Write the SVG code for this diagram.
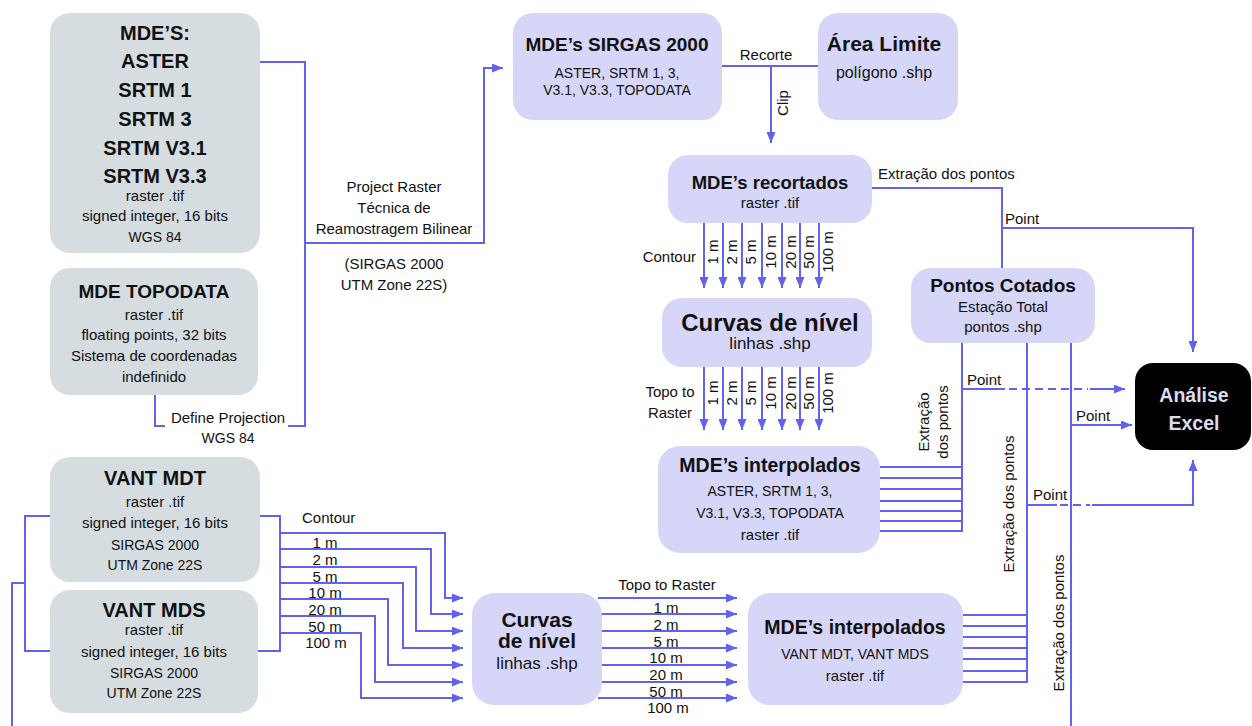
<svg xmlns="http://www.w3.org/2000/svg" width="1252" height="726" viewBox="0 0 1252 726">
<defs>
<marker id="ah" viewBox="0 0 11 9" refX="11" refY="4.5" markerWidth="11" markerHeight="9" markerUnits="userSpaceOnUse" orient="auto"><path d="M0,0 L11,4.5 L0,9 z" fill="#6262ee"/></marker>
<style>
.ln{stroke:#6262ee;stroke-width:2;fill:none}
.ar{stroke:#6262ee;stroke-width:2;fill:none;marker-end:url(#ah)}
.ds{stroke:#6262ee;stroke-width:2;fill:none;stroke-dasharray:8 5}
.gr{fill:#d6dde1}
.lv{fill:#d6d6f8}
text{font-family:"Liberation Sans",Arial,sans-serif;fill:#111}
.t{font-weight:bold;font-size:20px;text-anchor:middle}
.s{font-size:15px;text-anchor:middle}
.c{font-size:14px;text-anchor:middle}
.h{font-weight:bold;font-size:24px;text-anchor:middle}
.hs{font-size:17px;text-anchor:middle}
.l{font-size:15px}
.m{font-size:15px;text-anchor:middle}
.w{fill:#dcdcee}
</style>
</defs>
<rect width="1252" height="726" fill="#fff"/>

<g id="connectors">
<path class="ln" d="M260,62 H305 V426 H288"/>
<path class="ln" d="M155,395 V426 H165"/>
<path class="ar" d="M305,243 H484 V68 H503"/>
<path class="ln" d="M722,66 H818"/>
<path class="ar" d="M771,66 V143"/>
<path class="ar" d="M704,223 V288"/><path class="ar" d="M723,223 V288"/><path class="ar" d="M742,223 V288"/><path class="ar" d="M762,223 V288"/><path class="ar" d="M782,223 V288"/><path class="ar" d="M800,223 V288"/><path class="ar" d="M819,223 V288"/>
<path class="ar" d="M704,367 V430"/><path class="ar" d="M723,367 V430"/><path class="ar" d="M742,367 V430"/><path class="ar" d="M762,367 V430"/><path class="ar" d="M782,367 V430"/><path class="ar" d="M800,367 V430"/><path class="ar" d="M819,367 V430"/>
<path class="ln" d="M872,188 H1002 V268"/>
<path class="ar" d="M1002,228 H1193 V352"/>
<path class="ln" d="M880,467 H962 M880,478 H962 M880,489 H962 M880,501 H962 M880,511 H962 M880,521 H962 M880,531 H962 M962,343 V532"/>
<path class="ln" d="M962,389 H1005"/><path class="ds" d="M1009,389 H1088"/><path class="ar" d="M1090,389 H1125"/>
<path class="ln" d="M963,615 H1027 M963,626 H1027 M963,637 H1027 M963,648 H1027 M963,659 H1027 M963,671 H1027 M963,682 H1027 M1027,343 V683"/>
<path class="ln" d="M1027,505 H1057"/><path class="ds" d="M1060,505 H1090"/><path class="ar" d="M1092,505 H1193 V460"/>
<path class="ln" d="M1071,343 V726"/>
<path class="ar" d="M1071,425 H1132"/>
<path class="ln" d="M50,516 H25 V651 H50 M25,583 H12 V726"/>
<path class="ln" d="M260,516 H280 V651 H258"/>
<path class="ar" d="M280,533 H445 V598 H463"/>
<path class="ar" d="M280,549 H431 V614 H463"/>
<path class="ar" d="M280,567 H416 V631 H463"/>
<path class="ar" d="M280,583 H403 V648 H463"/>
<path class="ar" d="M280,599 H388 V665 H463"/>
<path class="ar" d="M280,616 H375 V682 H463"/>
<path class="ar" d="M280,633 H361 V698 H463"/>
<path class="ar" d="M598,598 H737"/><path class="ar" d="M602,614 H737"/><path class="ar" d="M602,631 H737"/><path class="ar" d="M602,648 H737"/><path class="ar" d="M602,665 H737"/><path class="ar" d="M602,682 H737"/><path class="ar" d="M598,698 H737"/>
</g>

<g id="connector-labels">
<text class="s" x="228" y="423">Define Projection</text>
<text class="c" x="228" y="443">WGS 84</text>
<text class="s" x="394" y="192">Project Raster</text>
<text class="s" x="394" y="213">Técnica de</text>
<text class="s" x="394" y="234">Reamostragem Bilinear</text>
<text class="s" x="394" y="269">(SIRGAS 2000</text>
<text class="s" x="394" y="290">UTM Zone 22S)</text>
<text class="s" x="766" y="60">Recorte</text>
<text class="s" transform="translate(788,103) rotate(-90)">Clip</text>
<text class="l" x="696" y="262" text-anchor="end">Contour</text>
<text class="m" transform="translate(718,252) rotate(-90)">1 m</text>
<text class="m" transform="translate(737,252) rotate(-90)">2 m</text>
<text class="m" transform="translate(756,252) rotate(-90)">5 m</text>
<text class="m" transform="translate(776,252) rotate(-90)">10 m</text>
<text class="m" transform="translate(796,252) rotate(-90)">20 m</text>
<text class="m" transform="translate(814,252) rotate(-90)">50 m</text>
<text class="m" transform="translate(833,252) rotate(-90)">100 m</text>
<text class="s" x="670" y="397">Topo to</text>
<text class="s" x="670" y="418">Raster</text>
<text class="m" transform="translate(718,393) rotate(-90)">1 m</text>
<text class="m" transform="translate(737,393) rotate(-90)">2 m</text>
<text class="m" transform="translate(756,393) rotate(-90)">5 m</text>
<text class="m" transform="translate(776,393) rotate(-90)">10 m</text>
<text class="m" transform="translate(796,393) rotate(-90)">20 m</text>
<text class="m" transform="translate(814,393) rotate(-90)">50 m</text>
<text class="m" transform="translate(833,393) rotate(-90)">100 m</text>
<text class="l" x="878" y="179">Extração dos pontos</text>
<text class="l" x="1005" y="224">Point</text>
<text class="l" x="967" y="385">Point</text>
<text class="l" x="1076" y="421">Point</text>
<text class="l" x="1033" y="500">Point</text>
<text class="m" transform="translate(929,422) rotate(-90)">Extração</text>
<text class="m" transform="translate(948,422) rotate(-90)">dos pontos</text>
<text class="m" transform="translate(1014,504) rotate(-90)">Extração dos pontos</text>
<text class="m" transform="translate(1064,623) rotate(-90)">Extração dos pontos</text>
<text class="l" x="302" y="523">Contour</text>
<text class="m" x="325" y="548">1 m</text>
<text class="m" x="325" y="565">2 m</text>
<text class="m" x="325" y="582">5 m</text>
<text class="m" x="325" y="598">10 m</text>
<text class="m" x="325" y="615">20 m</text>
<text class="m" x="325" y="632">50 m</text>
<text class="m" x="326" y="648">100 m</text>
<text class="m" x="667" y="590">Topo to Raster</text>
<text class="m" x="666" y="613">1 m</text>
<text class="m" x="666" y="630">2 m</text>
<text class="m" x="666" y="647">5 m</text>
<text class="m" x="666" y="663">10 m</text>
<text class="m" x="666" y="680">20 m</text>
<text class="m" x="666" y="697">50 m</text>
<text class="m" x="668" y="713">100 m</text>
</g>

<g id="n-mdes">
<rect class="gr" x="50" y="13" width="210" height="240" rx="20"/>
<text class="t" x="155" y="40">MDE’S:</text>
<text class="t" x="155" y="68">ASTER</text>
<text class="t" x="155" y="97">SRTM 1</text>
<text class="t" x="155" y="126">SRTM 3</text>
<text class="t" x="155" y="155">SRTM V3.1</text>
<text class="t" x="155" y="183">SRTM V3.3</text>
<text class="s" x="155" y="201">raster .tif</text>
<text class="s" x="155" y="221">signed integer, 16 bits</text>
<text class="c" x="155" y="242">WGS 84</text>
</g>

<g id="n-topodata">
<rect class="gr" x="50" y="268" width="208" height="127" rx="20"/>
<text class="t" x="154" y="298" style="font-size:19px">MDE TOPODATA</text>
<text class="s" x="154" y="320">raster .tif</text>
<text class="s" x="154" y="340">floating points, 32 bits</text>
<text class="s" x="154" y="361">Sistema de coordenadas</text>
<text class="s" x="154" y="382">indefinido</text>
</g>

<g id="n-vant-mdt">
<rect class="gr" x="50" y="457" width="210" height="125" rx="20"/>
<text class="t" x="155" y="485">VANT MDT</text>
<text class="s" x="155" y="507">raster .tif</text>
<text class="s" x="155" y="528">signed integer, 16 bits</text>
<text class="c" x="155" y="550">SIRGAS 2000</text>
<text class="c" x="155" y="570">UTM Zone 22S</text>
</g>

<g id="n-vant-mds">
<rect class="gr" x="50" y="590" width="208" height="123" rx="20"/>
<text class="t" x="154" y="617">VANT MDS</text>
<text class="s" x="154" y="635">raster .tif</text>
<text class="s" x="154" y="657">signed integer, 16 bits</text>
<text class="c" x="154" y="678">SIRGAS 2000</text>
<text class="c" x="154" y="698">UTM Zone 22S</text>
</g>

<g id="n-sirgas">
<rect class="lv" x="513" y="13" width="209" height="107" rx="20"/>
<text class="t" x="617" y="51" style="font-size:19px">MDE’s SIRGAS 2000</text>
<text class="c" x="617" y="78">ASTER, SRTM 1, 3,</text>
<text class="c" x="617" y="95">V3.1, V3.3, TOPODATA</text>
</g>

<g id="n-area">
<rect class="lv" x="818" y="13" width="140" height="107" rx="20"/>
<text class="t" x="884" y="51" style="font-size:21px">Área Limite</text>
<text class="s" x="884" y="78" style="font-size:16px">polígono .shp</text>
</g>

<g id="n-recortados">
<rect class="lv" x="668" y="155" width="204" height="68" rx="20"/>
<text class="t" x="770" y="189" style="font-size:18.5px">MDE’s recortados</text>
<text class="s" x="770" y="208">raster .tif</text>
</g>

<g id="n-curvas">
<rect class="lv" x="662" y="298" width="210" height="69" rx="20"/>
<text class="h" x="770" y="331">Curvas de nível</text>
<text class="hs" x="770" y="349">linhas .shp</text>
</g>

<g id="n-interp">
<rect class="lv" x="658" y="446" width="222" height="107" rx="22"/>
<text class="t" x="770" y="472" style="font-size:19.5px">MDE’s interpolados</text>
<text class="c" x="770" y="496">ASTER, SRTM 1, 3,</text>
<text class="c" x="770" y="518">V3.1, V3.3, TOPODATA</text>
<text class="s" x="770" y="540">raster .tif</text>
</g>

<g id="n-pontos">
<rect class="lv" x="911" y="268" width="184" height="75" rx="20"/>
<text class="t" x="1003" y="292" style="font-size:19px">Pontos Cotados</text>
<text class="s" x="1003" y="312">Estação Total</text>
<text class="s" x="1003" y="332">pontos .shp</text>
</g>

<g id="n-analise">
<rect x="1135" y="363" width="116" height="87" rx="18" fill="#000"/>
<text class="t w" x="1194" y="402" style="font-size:19.5px">Análise</text>
<text class="t w" x="1194" y="430" style="font-size:19.5px">Excel</text>
</g>

<g id="n-curvas-vant">
<rect class="lv" x="472" y="593" width="130" height="112" rx="22"/>
<text class="h" x="537" y="627" style="font-size:21px">Curvas</text>
<text class="h" x="537" y="648" style="font-size:21px">de nível</text>
<text class="hs" x="537" y="669">linhas .shp</text>
</g>

<g id="n-interp-vant">
<rect class="lv" x="748" y="593" width="215" height="112" rx="22"/>
<text class="t" x="855" y="634" style="font-size:19.5px">MDE’s interpolados</text>
<text class="c" x="855" y="659">VANT MDT, VANT MDS</text>
<text class="s" x="855" y="681">raster .tif</text>
</g>
</svg>
